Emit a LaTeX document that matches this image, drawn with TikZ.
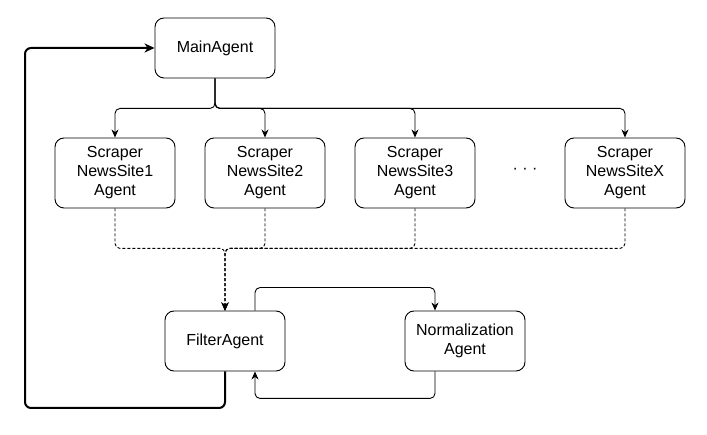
\documentclass[tikz,border=0pt]{standalone}
\usepackage{fontspec}
\setmainfont{Liberation Sans}
\usetikzlibrary{arrows.meta}
\begin{document}
\begin{tikzpicture}[x=1pt,y=-1pt,
  agent/.style={draw,line width=0.9pt,rounded corners=9pt,minimum width=120pt,inner sep=0pt,align=center,font=\fontsize{16}{19}\selectfont},
  conn/.style={line width=0.9pt,rounded corners=5pt,-{Stealth[length=8pt,width=7pt,inset=2.5pt]}},
  dconn/.style={conn,dash pattern=on 3pt off 2pt},
  thick conn/.style={line width=2pt,rounded corners=6pt,-{Stealth[length=10pt,width=9pt,inset=3pt]}}]
\useasboundingbox (0,0) rectangle (707,435);
\node[agent,minimum height=60pt] (main) at (215,48) {MainAgent};
\node[agent,minimum height=70pt] (s1) at (115,173) {Scraper\\NewsSite1\\Agent};
\node[agent,minimum height=70pt] (s2) at (265,173) {Scraper\\NewsSite2\\Agent};
\node[agent,minimum height=70pt] (s3) at (415,173) {Scraper\\NewsSite3\\Agent};
\node[agent,minimum height=70pt] (sx) at (625,173) {Scraper\\NewsSiteX\\Agent};
\node[font=\fontsize{16}{19}\selectfont] (dots) at (525,171) {· · ·};
\node[agent,minimum height=60pt] (filter) at (225,341) {FilterAgent};
\node[agent,minimum height=60pt] (norm) at (465,341) {Normalization\\Agent};
\coordinate (loopc) at (25,408);
% main to scrapers
\foreach \s in {s1,s2,s3,sx}
  \draw[conn] (main.south) -- ++(0,30) -| (\s.north);
% scrapers to filter
\foreach \s in {s1,s2,s3,sx}
  \draw[dconn] (\s.south) -- ++(0,40) -| (filter.north);
% filter to norm
\draw[conn] ([xshift=30pt]filter.north) -- ++(0,-23) -| ([xshift=-30pt]norm.north);
% norm to filter
\draw[conn] ([xshift=-30pt]norm.south) -- ++(0,27) -| ([xshift=30pt]filter.south);
% filter back to main
\draw[thick conn] (filter.south) |- (loopc) |- (main.west);
\end{tikzpicture}
\end{document}
